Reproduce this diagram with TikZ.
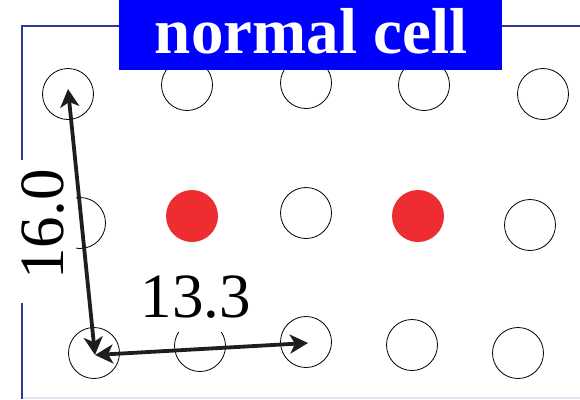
\documentclass[tikz,border=0pt]{standalone}
\usepackage{fontspec}
\setmainfont{Liberation Serif}
\usetikzlibrary{arrows.meta}
\definecolor{framec}{HTML}{2E3A98}
\definecolor{framelt}{HTML}{E4E4F4}
\definecolor{titlebg}{HTML}{0000FF}
\definecolor{dotred}{HTML}{EE2D33}
\definecolor{arrc}{HTML}{1E1E1E}
\tikzset{
  ring/.style={circle,draw=black,line width=0.8pt,minimum size=51pt,inner sep=0pt},
  reddot/.style={circle,fill=dotred,minimum size=52pt,inner sep=0pt},
  dimarrow/.style={draw=arrc,line width=3.8pt,{Stealth[length=18pt,width=19pt,inset=5pt]}-{Stealth[length=18pt,width=19pt,inset=5pt]}},
  numlabel/.style={font=\fontsize{63}{63}\selectfont,inner sep=0pt,anchor=base,text=black},
  titlelabel/.style={font=\fontsize{65}{65}\selectfont\bfseries,text=white,inner sep=0pt,anchor=base}
}
\begin{document}
\begin{tikzpicture}[x=1pt,y=-1pt]
\useasboundingbox (0,0) rectangle (580,399);
\fill[white] (0,0) rectangle (580,399);
% frame
\draw[framec,line width=2pt] (580,26) -- (22,26) -- (22,399);
\draw[framelt,line width=1.5pt] (23,398) -- (580,398);
% row 1
\node[ring] (c11) at (68,94) {};
\node[ring] (c12) at (187,85) {};
\node[ring] (c13) at (306,83) {};
\node[ring] (c14) at (424,85) {};
\node[ring] (c15) at (543,94) {};
% title box over partial circles
\fill[titlebg] (119,0) rectangle (502,70);
\node[titlelabel] (title) at (311,53) {normal cell};
% row 2
\node[ring] (c21) at (80,223) {};
\node[reddot] (r1) at (192,216) {};
\node[ring] (c23) at (306,213) {};
\node[reddot] (r2) at (418,216) {};
\node[ring] (c25) at (530,225) {};
% row 3
\node[ring] (c31) at (94,353) {};
\node[ring] (c32) at (200,346) {};
\node[ring] (c33) at (306,342) {};
\node[ring] (c34) at (412,345) {};
\node[ring] (c35) at (518,353) {};
% label backgrounds
\fill[white] (6,160) rectangle (76,303);
\fill[white] (132,256) rectangle (262,332);
% labels
\node[numlabel,rotate=90] (lv) at (63,224.5) {16.0};
\node[numlabel] (lh) at (196,317) {13.3};
% dimension arrows
\coordinate (tA) at (68,89);
\coordinate (tB) at (95,355);
\coordinate (tC) at (308,343);
\draw[dimarrow] (tA) -- (tB);
\draw[dimarrow] (tB) -- (tC);
\end{tikzpicture}
\end{document}
